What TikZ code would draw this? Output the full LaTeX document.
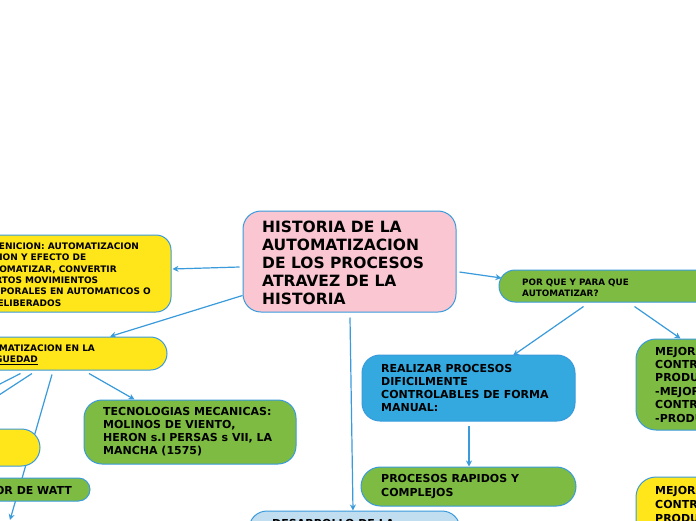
\documentclass[tikz,border=0pt]{standalone}
\usepackage{fontspec}
\setmainfont{DejaVu Sans}
\usetikzlibrary{arrows.meta,calc}
\pgfdeclarelayer{bg}
\pgfsetlayers{bg,main}
\definecolor{bordc}{HTML}{3A9BDC}
\definecolor{cpink}{HTML}{F9C6D2}
\definecolor{cyel}{HTML}{FFE61A}
\definecolor{cgreen}{HTML}{7DBB42}
\definecolor{cblue}{HTML}{33A9E0}
\definecolor{clblue}{HTML}{C1DEF1}
\begin{document}
\begin{tikzpicture}[x=1pt,y=-1pt,
  box/.style={draw=bordc, line width=1pt, inner sep=0pt},
  txt/.style={anchor=west, align=left, inner sep=0pt, text=black},
  conn/.style={draw=bordc, line width=1.2pt, -{Stealth[length=6pt,width=6pt]}},
  plain/.style={draw=bordc, line width=1.2pt}]
\useasboundingbox (0,0) rectangle (696,520);
% boxes
\node[box, fill=cpink, rounded corners=18pt, minimum width=213pt, minimum height=101pt] (c) at (349.5,261.5) {};
\node[txt, font={\fontsize{15.5}{18}\selectfont\bfseries}] (ct) at (262,263) {HISTORIA DE LA\\AUTOMATIZACION\\DE LOS PROCESOS\\ATRAVEZ DE LA\\HISTORIA};

\node[box, fill=cyel, rounded corners=15pt, minimum width=211pt, minimum height=77pt] (def) at (65.5,273.5) {};
\node[txt, font={\fontsize{9}{11.4}\selectfont\bfseries}] (deft) at (-21,274.5) {DEFENICION: AUTOMATIZACION\\ACCION Y EFECTO DE\\AUTOMATIZAR, CONVERTIR\\CIERTOS MOVIMIENTOS\\CORPORALES EN AUTOMATICOS O\\INDELIBERADOS};

\node[box, fill=cyel, rounded corners=16.5pt, minimum width=217pt, minimum height=33pt] (ant) at (58.5,353.5) {};
\node[txt, font={\fontsize{9}{11}\selectfont\bfseries}] (antt) at (-29,354.5) {AUTOMATIZACION EN LA\\\underline{ANTIGUEDAD}};

\node[box, fill=cgreen, rounded corners=18pt, minimum width=212pt, minimum height=64pt] (tec) at (190,432) {};
\node[txt, font={\fontsize{11}{13}\selectfont\bfseries}] (tect) at (103,431.5) {TECNOLOGIAS MECANICAS:\\MOLINOS DE VIENTO,\\HERON s.I PERSAS s VII, LA\\MANCHA (1575)};

\node[box, fill=cyel, rounded corners=18.5pt, minimum width=140pt, minimum height=37pt] (ys) at (-30,447.5) {};

\node[box, fill=cgreen, rounded corners=11.5pt, minimum width=190pt, minimum height=23pt] (watt) at (-5,489.5) {};
\node[txt, anchor=east, font={\fontsize{11}{13}\selectfont\bfseries}] (wattt) at (72,490) {REGULADOR DE WATT};

\node[box, fill=cgreen, rounded corners=16pt, minimum width=261pt, minimum height=32pt] (por) at (629.5,286) {};
\node[txt, font={\fontsize{8.8}{11}\selectfont\bfseries}] (port) at (522,287.5) {POR QUE Y PARA QUE\\AUTOMATIZAR?};

\node[box, fill=cblue, rounded corners=18pt, minimum width=213pt, minimum height=66pt] (real) at (468.5,388) {};
\node[txt, font={\fontsize{11}{13.3}\selectfont\bfseries}] (realt) at (381,388) {REALIZAR PROCESOS\\DIFICILMENTE\\CONTROLABLES DE FORMA\\MANUAL:};

\node[box, fill=cgreen, rounded corners=19.5pt, minimum width=215pt, minimum height=39pt] (proc) at (468.5,486.5) {};
\node[txt, font={\fontsize{11}{14}\selectfont\bfseries}] (proct) at (381,487) {PROCESOS RAPIDOS Y\\COMPLEJOS};

\node[box, fill=cgreen, rounded corners=20pt, minimum width=214pt, minimum height=91pt] (mej) at (743,384.5) {};
\node[txt, font={\fontsize{11}{13.4}\selectfont\bfseries}] (mejt) at (655,384.5) {MEJORAR EL\\CONTROL DE LA\\PRODUCCION\\-MEJORAR EL\\CONTROL DE CALIDAD\\-PRODUCTIVIDAD};

\node[box, fill=cyel, rounded corners=20pt, minimum width=214pt, minimum height=120pt] (mej2) at (743,537) {};
\node[txt, font={\fontsize{11}{14}\selectfont\bfseries}] (mej2t) at (655,504) {MEJORAR\\CONTROL\\PRODUCCION};

\node[box, fill=clblue, rounded corners=18pt, minimum width=211pt, minimum height=80pt] (des) at (354.5,551) {};
\node[txt, font={\fontsize{11}{13}\selectfont\bfseries}] (dest) at (272,523.5) {DESARROLLO DE LA};

\coordinate (offA) at (10,520);
\coordinate (offB) at (-4,397);
\coordinate (offC) at (-4,386);

\begin{pgfonlayer}{bg}
\fill[white] (0,0) rectangle (696,520);
\draw[conn] ($(c.west)+(-3,5.5)$) -- ($(def.east)+(1,-4.5)$);
\draw[conn] ($(c.south west)+(0,-17)$) -- ($(ant.north)+(51.5,0)$);
\draw[conn] ($(c.east)+(3,10.5)$) -- ($(por.west)+(3,-8)$);
\draw[conn] ($(c.south)+(0.5,5)$) -- ($(des.north)+(-1.5,0)$);
\draw[conn] ($(por.south west)+(85,4)$) -- ($(real.north)+(44.5,1)$);
\draw[conn] ($(por.south west)+(136,4)$) -- ($(mej.north west)+(45,0)$);
\draw[conn] ($(real.south)+(0.5,4)$) -- ($(proc.north)+(0.5,0)$);
\draw[conn] ($(ant.south)+(30.5,3)$) -- ($(tec.north west)+(51,0)$);
\draw[conn] ($(ant.south)+(-6.5,4)$) -- (offA);
\draw[plain] ($(ant.south)+(-26.5,3)$) -- (offB);
\draw[plain] ($(ant.south)+(-38,3)$) -- (offC);
\end{pgfonlayer}
\end{tikzpicture}
\end{document}
